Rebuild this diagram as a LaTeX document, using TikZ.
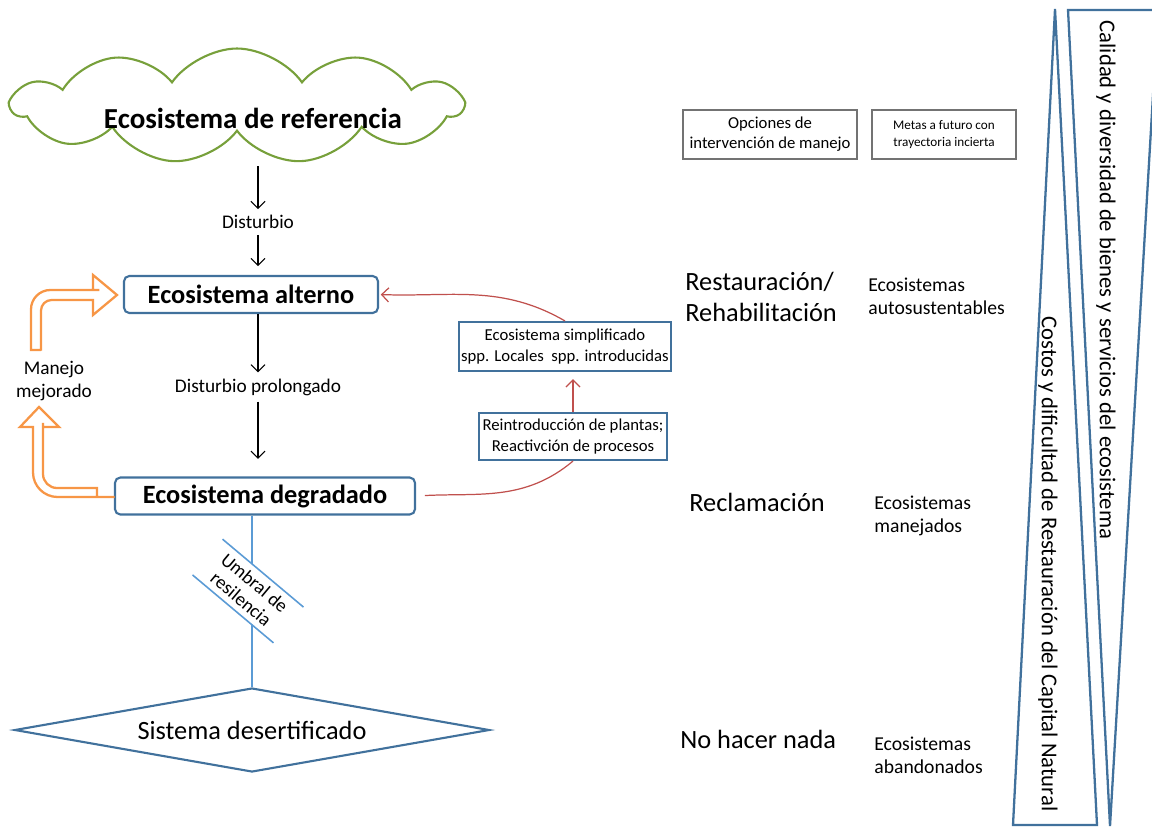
\documentclass[tikz,border=0pt]{standalone}
\usepackage{fontspec}
\setmainfont{Carlito}
\usetikzlibrary{shapes}
\usetikzlibrary{shapes.geometric}
\usetikzlibrary{shapes.symbols}
\usetikzlibrary{positioning}
\usetikzlibrary{arrows.meta}
\definecolor{boxblue}{RGB}{65,113,156}
\definecolor{lineblue}{RGB}{91,155,213}
\definecolor{cloudgreen}{RGB}{119,160,59}
\definecolor{arrowred}{RGB}{192,80,77}
\definecolor{arroworange}{RGB}{247,150,70}
\definecolor{boxgray}{RGB}{115,115,115}
\tikzset{
    mynodec/.style = {cloud, cloud puffs=11, cloud puff arc=110, aspect=3.75, line width=1.2pt, draw=cloudgreen, minimum width=9cm, minimum height=2.3cm},
    mynodeb/.style = {rectangle, rounded corners=3pt, line width=1.2pt, draw=boxblue, fill=white, align=center, font=\bfseries\fontsize{15}{18}\selectfont},
    mynodes/.style = {rectangle, line width=1.2pt, draw=boxblue, align=center, font=\fontsize{9.5}{11.5}\selectfont, inner sep=1pt},
    mynoded/.style = {diamond, line width=1.2pt, draw=boxblue, font=\fontsize{15}{18}\selectfont, aspect=5.65, minimum width=9.5cm, minimum height=1.68cm, inner sep=0pt},
    mynodeg/.style = {rectangle, line width=1.2pt, draw=boxgray, align=center, minimum height=0.98cm, inner sep=1pt},
    mytext/.style = {align=center, font=\fontsize{11}{13.5}\selectfont},
    mytextl/.style = {align=left, font=\fontsize{15}{18}\selectfont, anchor=west, inner sep=0pt},
    mytexts/.style = {align=left, font=\fontsize{11.2}{13}\selectfont, anchor=west, inner sep=0pt},
    mytextv/.style = {rotate=-90, font=\fontsize{12.9}{15}\selectfont, inner sep=0pt},
    edgen/.style = {-{Straight Barb[length=4pt,width=8pt]}, line width=0.6pt, black},
    edger/.style = {-{Straight Barb[length=4pt,width=8pt]}, line width=0.7pt, arrowred},
    edgel/.style = {-, line width=0.9pt, lineblue},
    edgeo/.style = {line width=1.3pt, draw=arroworange, fill=white, line join=miter},
    tribox/.style = {line width=1.3pt, draw=boxblue, line join=miter},
}

\begin{document}
\begin{tikzpicture}[x=0.02cm, y=-0.02cm, font=\fontsize{11}{13.5}\selectfont]
  \clip (0,0) rectangle (1152,826);
  % main chain
  \node[mynodec] (ref) at (237,106) {};
  \node[font=\bfseries\fontsize{16.5}{20}\selectfont] (reft) at (253,118) {Ecosistema de referencia};
  \coordinate (refb) at (258,166);
  \node[mytext] (dist) at (258,222) {Disturbio};
  \node[mynodeb, minimum width=5.08cm, minimum height=0.74cm] (alt) at (251,294.5) {Ecosistema alterno};
  \node[mytext] (distp) at (258,387) {Disturbio prolongado};
  \node[mynodeb, minimum width=6cm, minimum height=0.74cm] (deg) at (265,496) {Ecosistema degradado};
  \node[mynoded] (des) at (252,730) {Sistema desertificado};

  \draw[edgen] (refb) -- (dist.north);
  \draw[edgen, shorten >=5pt] (dist.south) -- (alt.north -| dist.south);
  \draw[edgen] (alt.south -| distp.north) -- (distp.north);
  \draw[edgen, shorten >=10pt] (distp.south) -- (deg.north -| distp.south);

  % threshold
  \draw[edgel] (deg.south -| des.north) -- (des.north);
  \node[rotate=-40, fill=white, inner sep=0pt, minimum width=2.1cm, minimum height=0.92cm, align=center, font=\fontsize{10.8}{12}\selectfont] (umb) at (248,591) {Umbral de\\resilencia};
  \draw[edgel] (umb.north west) -- (umb.north east);
  \draw[edgel] (umb.south west) -- (umb.south east);

  % improved management
  \node[mytext] (man) at (54,381) {Manejo\\mejorado};
  \draw[edgeo] (97,488) -- (90,488) [rounded corners=8pt] -- (43,488) -- (43,437) [sharp corners] -- (43,427) -- (59,427) -- (39,407) -- (20,427) -- (33,427) -- (33,437) [rounded corners=14pt] -- (33,497) -- (90,497) [sharp corners] -- (97,497) -- cycle;
  \draw[edgeo] (31,350) [rounded corners=11pt] -- (31,290) -- (80,290) [sharp corners] -- (93,290) -- (93,275) -- (117,295) -- (93,315) -- (93,300) -- (80,300) [rounded corners=6pt] -- (41,300) -- (41,340) [sharp corners] -- (41,350) -- cycle;

  % rehabilitation path
  \node[mynodes, minimum width=4.2cm, minimum height=0.98cm] (simp) at (565,346.5) {Ecosistema simplificado\\spp. Locales\ \ spp. introducidas};
  \node[mynodes, minimum width=3.76cm, minimum height=0.94cm] (reint) at (573,436.5) {Reintroducción de plantas;\\Reactivción de procesos};
  \draw[edger, -, shorten <=5pt] (deg.east) to[out=3, in=-140] (reint.south);
  \draw[edger, shorten >=4pt] (reint.north) -- (simp.south -| reint.north);
  \draw[edger, shorten >=1pt] (simp.north) to[out=150, in=-2] (alt.east);

  % options
  \node[mynodeg, minimum width=3.48cm, font=\fontsize{9.5}{11.5}\selectfont] (opc) at (770,134.5) {Opciones de\\intervención de manejo};
  \node[mynodeg, minimum width=2.88cm, font=\fontsize{7.5}{9.5}\selectfont] (met) at (944,134.5) {Metas a futuro con\\trayectoria incierta};
  \node[mytextl] (rest) at (685,297) {Restauración/\\Rehabilitación};
  \node[mytexts] (auto) at (868,296) {Ecosistemas\\autosustentables};
  \node[mytextl] (recl) at (689,502) {Reclamación};
  \node[mytexts] (mane) at (874,516) {Ecosistemas\\manejados};
  \node[mytextl] (nada) at (680,739) {No hacer nada};
  \node[mytexts] (aban) at (874,755) {Ecosistemas\\abandonados};

  % gradients
  \draw[tribox] (1055,9) -- (1097,825) -- (1013,825) -- cycle;
  \draw[tribox] (1068,10) -- (1158,10) -- (1110,826) -- cycle;
  \node[mytextv] (cal) at (1106,280) {Calidad y diversidad de bienes y servicios del ecosistema};
  \node[mytextv] (cos) at (1048,564) {Costos y dificultad de Restauración del Capital Natural};
\end{tikzpicture}
\end{document}
